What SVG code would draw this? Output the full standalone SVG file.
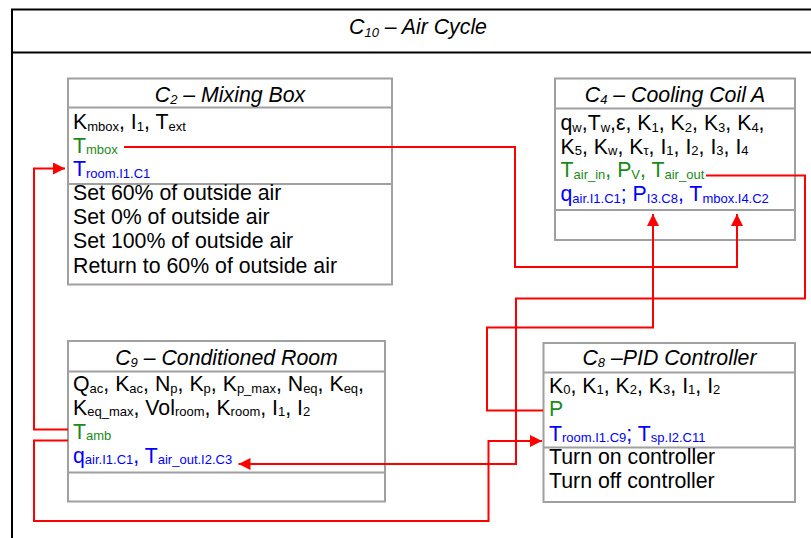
<svg xmlns="http://www.w3.org/2000/svg" width="811" height="538" viewBox="0 0 811 538">
<defs>
<style>
text{font-family:"Liberation Sans",Arial,sans-serif;font-size:21.3px;fill:#000}
.t{font-style:italic;text-anchor:middle}
.s{font-size:13px}
.g{fill:#1a8a1a}
.b{fill:#0000ff}
.box{fill:#fff;stroke:#a0a0a0;stroke-width:2}
.div{stroke:#a0a0a0;stroke-width:2}
.c{fill:none;stroke:#ff0000;stroke-width:2}
</style>
<marker id="ah" markerUnits="userSpaceOnUse" markerWidth="12" markerHeight="12" refX="12" refY="6" orient="auto">
<path d="M0,0 L12,6 L0,12 z" fill="#ff0000"/>
</marker>
</defs>
<rect width="811" height="538" fill="#fff"/>
<g id="c10">
<rect x="12" y="9.5" width="830" height="560" fill="none" stroke="#000" stroke-width="2"/>
<line x1="12" y1="52.5" x2="811" y2="52.5" stroke="#000" stroke-width="2"/>
<text class="t" x="418" y="34">C<tspan class="s" dy="3">10</tspan><tspan dy="-3"> – Air Cycle</tspan></text>
</g>
<g id="c2">
<rect class="box" x="68" y="78.5" width="324" height="206"/>
<line class="div" x1="68" y1="107.5" x2="392" y2="107.5"/>
<line class="div" x1="68" y1="184" x2="392" y2="184"/>
<text class="t" x="230" y="101.5">C<tspan class="s" dy="2">2</tspan><tspan dy="-2"> – Mixing Box</tspan></text>
<text x="73" y="129">K<tspan class="s" dy="1.5">mbox</tspan><tspan dy="-1.5">, I</tspan><tspan class="s" dy="1.5">1</tspan><tspan dy="-1.5">, T</tspan><tspan class="s" dy="1.5">ext</tspan></text>
<text class="g" x="73" y="152.5">T<tspan class="s" dy="1.5">mbox</tspan></text>
<text class="b" x="73" y="176">T<tspan class="s" dy="1.5">room.I1.C1</tspan></text>
<text x="73" y="200">Set 60% of outside air</text>
<text x="73" y="224">Set 0% of outside air</text>
<text x="73" y="248">Set 100% of outside air</text>
<text x="73" y="272.5">Return to 60% of outside air</text>
</g>
<g id="c4">
<rect class="box" x="555" y="78.5" width="240" height="161.5"/>
<line class="div" x1="555" y1="108.5" x2="795" y2="108.5"/>
<line class="div" x1="555" y1="210" x2="795" y2="210"/>
<text class="t" x="675" y="101.5">C<tspan class="s" dy="2">4</tspan><tspan dy="-2"> – Cooling Coil A</tspan></text>
<text x="560.5" y="130">q<tspan class="s" dy="1.5">w</tspan><tspan dy="-1.5">,T</tspan><tspan class="s" dy="1.5">w</tspan><tspan dy="-1.5">,ε, K</tspan><tspan class="s" dy="1.5">1</tspan><tspan dy="-1.5">, K</tspan><tspan class="s" dy="1.5">2</tspan><tspan dy="-1.5">, K</tspan><tspan class="s" dy="1.5">3</tspan><tspan dy="-1.5">, K</tspan><tspan class="s" dy="1.5">4</tspan><tspan dy="-1.5">,</tspan></text>
<text x="560.5" y="153.5">K<tspan class="s" dy="1.5">5</tspan><tspan dy="-1.5">, K</tspan><tspan class="s" dy="1.5">w</tspan><tspan dy="-1.5">, K</tspan><tspan class="s" dy="1.5">τ</tspan><tspan dy="-1.5">, I</tspan><tspan class="s" dy="1.5">1</tspan><tspan dy="-1.5">, I</tspan><tspan class="s" dy="1.5">2</tspan><tspan dy="-1.5">, I</tspan><tspan class="s" dy="1.5">3</tspan><tspan dy="-1.5">, I</tspan><tspan class="s" dy="1.5">4</tspan></text>
<text class="g" x="560.5" y="177">T<tspan class="s" dy="1.5">air_in</tspan><tspan dy="-1.5">, P</tspan><tspan class="s" dy="1.5">V</tspan><tspan dy="-1.5">, T</tspan><tspan class="s" dy="1.5">air_out</tspan></text>
<text class="b" x="560.5" y="201">q<tspan class="s" dy="1.5">air.I1.C1</tspan><tspan dy="-1.5">; P</tspan><tspan class="s" dy="1.5">I3.C8</tspan><tspan dy="-1.5">, T</tspan><tspan class="s" dy="1.5">mbox.I4.C2</tspan></text>
</g>
<g id="c9">
<rect class="box" x="68" y="341" width="317" height="160.5"/>
<line class="div" x1="68" y1="371.5" x2="385" y2="371.5"/>
<line class="div" x1="68" y1="472.5" x2="385" y2="472.5"/>
<text class="t" x="226.5" y="364.5">C<tspan class="s" dy="2">9</tspan><tspan dy="-2"> – Conditioned Room</tspan></text>
<text x="73" y="391">Q<tspan class="s" dy="1.5">ac</tspan><tspan dy="-1.5">, K</tspan><tspan class="s" dy="1.5">ac</tspan><tspan dy="-1.5">, N</tspan><tspan class="s" dy="1.5">p</tspan><tspan dy="-1.5">, K</tspan><tspan class="s" dy="1.5">p</tspan><tspan dy="-1.5">, K</tspan><tspan class="s" dy="1.5">p_max</tspan><tspan dy="-1.5">, N</tspan><tspan class="s" dy="1.5">eq</tspan><tspan dy="-1.5">, K</tspan><tspan class="s" dy="1.5">eq</tspan><tspan dy="-1.5">,</tspan></text>
<text x="73" y="414.5">K<tspan class="s" dy="1.5">eq_max</tspan><tspan dy="-1.5">, Vol</tspan><tspan class="s" dy="1.5">room</tspan><tspan dy="-1.5">, K</tspan><tspan class="s" dy="1.5">room</tspan><tspan dy="-1.5">, I</tspan><tspan class="s" dy="1.5">1</tspan><tspan dy="-1.5">, I</tspan><tspan class="s" dy="1.5">2</tspan></text>
<text class="g" x="73" y="438.5">T<tspan class="s" dy="1.5">amb</tspan></text>
<text class="b" x="73" y="462.5">q<tspan class="s" dy="1.5">air.I1.C1</tspan><tspan dy="-1.5">, T</tspan><tspan class="s" dy="1.5">air_out.I2.C3</tspan></text>
</g>
<g id="c8">
<rect class="box" x="543.5" y="343" width="251.5" height="159"/>
<line class="div" x1="543.5" y1="372.5" x2="795" y2="372.5"/>
<line class="div" x1="543.5" y1="447.5" x2="795" y2="447.5"/>
<text class="t" x="669.5" y="365">C<tspan class="s" dy="2">8</tspan><tspan dy="-2"> –PID Controller</tspan></text>
<text x="549" y="392.5">K<tspan class="s" dy="1.5">0</tspan><tspan dy="-1.5">, K</tspan><tspan class="s" dy="1.5">1</tspan><tspan dy="-1.5">, K</tspan><tspan class="s" dy="1.5">2</tspan><tspan dy="-1.5">, K</tspan><tspan class="s" dy="1.5">3</tspan><tspan dy="-1.5">, I</tspan><tspan class="s" dy="1.5">1</tspan><tspan dy="-1.5">, I</tspan><tspan class="s" dy="1.5">2</tspan></text>
<text class="g" x="549" y="416">P</text>
<text class="b" x="549" y="440.5">T<tspan class="s" dy="1.5">room.I1.C9</tspan><tspan dy="-1.5">; T</tspan><tspan class="s" dy="1.5">sp.I2.C11</tspan></text>
<text x="549" y="464">Turn on controller</text>
<text x="549" y="488">Turn off controller</text>
</g>
<g id="connectors">
<path class="c" d="M124,147 H515 V267 H737 V214" marker-end="url(#ah)"/>
<path class="c" d="M706,175.5 H805 V298.5 H516 V464 H238.5" marker-end="url(#ah)"/>
<path class="c" d="M543,410.5 H487 V327.5 H653 V214" marker-end="url(#ah)"/>
<path class="c" d="M68,429.5 H34 V168.5 H65" marker-end="url(#ah)"/>
<path class="c" d="M68,440.5 H34 V521 H488.5 V441 H542" marker-end="url(#ah)"/>
</g>
</svg>
